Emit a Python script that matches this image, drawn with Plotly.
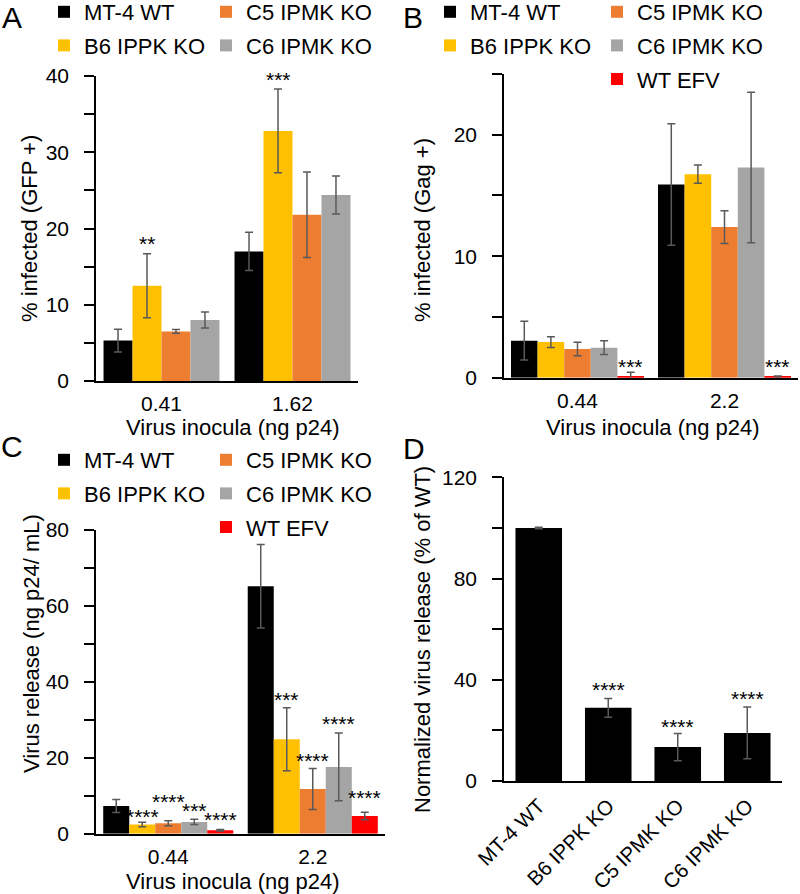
import plotly.graph_objects as go

FONT = "Liberation Sans, Arial, sans-serif"
W, H = 800, 894

# ---------------- data ----------------
series_names = ["MT-4 WT", "B6 IPPK KO", "C5 IPMK KO", "C6 IPMK KO", "WT EFV"]
series_colors = ["#000000", "#FFC000", "#ED7D31", "#A5A5A5", "#FF0000"]

# Panel A: % infected (GFP +)
a_categories = ["0.41", "1.62"]
a_mt4 = [5.3, 17.0]
a_mt4_err = [1.5, 2.5]
a_b6 = [12.5, 32.8]
a_b6_err = [4.2, 5.5]
a_c5 = [6.5, 21.8]
a_c5_err = [0.25, 5.6]
a_c6 = [8.0, 24.4]
a_c6_err = [1.05, 2.5]
a_ytick_vals = [0, 5, 10, 15, 20, 25, 30, 35, 40]
a_ytick_text = ["0", "", "10", "", "20", "", "30", "", "40"]
a_stars = [(0, 1, "**", 18.5), (1, 1, "***", 40.0)]

# Panel B: % infected (Gag +)
b_categories = ["0.44", "2.2"]
b_mt4 = [3.05, 15.9]
b_mt4_err = [1.6, 5.0]
b_b6 = [2.93, 16.75]
b_b6_err = [0.45, 0.75]
b_c5 = [2.36, 12.4]
b_c5_err = [0.55, 1.35]
b_c6 = [2.47, 17.3]
b_c6_err = [0.57, 6.2]
b_efv = [0.14, 0.06]
b_efv_err = [0.3, 0.08]
b_ytick_vals = [0, 5, 10, 15, 20, 25]
b_ytick_text = ["0", "", "10", "", "20", ""]
b_stars = [(0, 4, "***", 1.23), (1, 4, "***", 1.23)]

# Panel C: virus release (ng p24/ mL)
c_categories = ["0.44", "2.2"]
c_mt4 = [7.3, 65.2]
c_mt4_err = [1.7, 11.0]
c_b6 = [2.4, 24.9]
c_b6_err = [0.6, 8.3]
c_c5 = [2.75, 11.8]
c_c5_err = [0.65, 5.4]
c_c6 = [3.1, 17.6]
c_c6_err = [0.7, 8.9]
c_efv = [0.9, 4.65]
c_efv_err = [0.2, 1.0]
c_ytick_vals = [0, 10, 20, 30, 40, 50, 60, 70, 80]
c_ytick_text = ["0", "", "20", "", "40", "", "60", "", "80"]
c_stars = [(0, 1, "****", 5.5), (0, 2, "****", 9.6), (0, 3, "***", 7.1), (0, 4, "****", 4.7),
           (1, 1, "***", 36.5), (1, 2, "****", 20.3), (1, 3, "****", 30.0), (1, 4, "****", 10.6)]

# Panel D: normalized virus release (% of WT)
d_categories = ["MT-4 WT", "B6 IPPK KO", "C5 IPMK KO", "C6 IPMK KO"]
d_values = [100.0, 28.9, 13.4, 19.0]
d_err = [0.3, 3.7, 5.4, 10.2]
d_ytick_vals = [0, 20, 40, 60, 80, 100, 120]
d_ytick_text = ["0", "", "40", "", "80", "", "120"]
d_stars = [(1, "****", 37.7), (2, "****", 23.0), (3, "****", 34.3)]

# ---------------- layout helpers ----------------
def px_x(x):
    return x / W

def px_y(y):
    return 1 - y / H

fig = go.Figure()

ERR = dict(type="data", color="#595959", thickness=1.5, width=4)
STAR_FONT = dict(family=FONT, size=21, color="black")

def add_group_panel(xa, ya, cats, vals, errs, legends, group_frac):
    n = len(vals)
    w = group_frac / n
    for i, (v, e) in enumerate(zip(vals, errs)):
        col = 0 if i in (0, 1) else 1
        fig.add_trace(go.Bar(
            x=cats, y=v, name=series_names[i],
            marker=dict(color=series_colors[i], line=dict(width=0)),
            width=w, offset=-group_frac / 2 + i * w,
            error_y=dict(array=e, **ERR),
            xaxis=xa, yaxis=ya,
            legend=legends[col], legendgroup=f"{xa}{i}",
            showlegend=True,
        ))

def add_stars(xa, ya, stars, group_frac, n):
    w = group_frac / n
    for g, s, txt, yv in stars:
        fig.add_annotation(
            x=g - group_frac / 2 + (s + 0.5) * w, y=yv, text=txt,
            xref=xa, yref=ya, showarrow=False, yanchor="middle", yshift=-4,
            font=STAR_FONT,
        )

gA, gB, gC = 0.885, 0.905, 0.9
add_group_panel("x", "y", a_categories,
                [a_mt4, a_b6, a_c5, a_c6], [a_mt4_err, a_b6_err, a_c5_err, a_c6_err],
                ["legend", "legend2"], gA)
add_group_panel("x2", "y2", b_categories,
                [b_mt4, b_b6, b_c5, b_c6, b_efv], [b_mt4_err, b_b6_err, b_c5_err, b_c6_err, b_efv_err],
                ["legend3", "legend4"], gB)
add_group_panel("x3", "y3", c_categories,
                [c_mt4, c_b6, c_c5, c_c6, c_efv], [c_mt4_err, c_b6_err, c_c5_err, c_c6_err, c_efv_err],
                ["legend5", "legend6"], gC)
fig.add_trace(go.Bar(
    x=d_categories, y=d_values, width=0.67,
    marker=dict(color="#000000", line=dict(width=0)),
    error_y=dict(array=d_err, **ERR),
    xaxis="x4", yaxis="y4", showlegend=False,
))

add_stars("x", "y", a_stars, gA, 4)
add_stars("x2", "y2", b_stars, gB, 5)
add_stars("x3", "y3", c_stars, gC, 5)
for c, txt, yv in d_stars:
    fig.add_annotation(x=c, y=yv, text=txt, xref="x4", yref="y4", showarrow=False,
                       yanchor="middle", yshift=-4, font=STAR_FONT)

tickfont = dict(family=FONT, size=21, color="black")

def xaxis_cfg(x0, x1, anchor, angle=0, size=21):
    return dict(domain=[px_x(x0), px_x(x1)], anchor=anchor, type="category",
                showline=True, linecolor="black", linewidth=1.5, ticks="",
                showgrid=False, zeroline=False, tickfont=dict(tickfont, size=size),
                tickangle=angle, ticklabelstandoff=3, fixedrange=True, automargin=False)

def yaxis_cfg(y0px, ytop, anchor, rng, tv, tt, standoff=11):
    return dict(domain=[px_y(y0px), px_y(ytop)], anchor=anchor, range=rng,
                tickvals=tv, ticktext=tt, showline=True, linecolor="black", linewidth=1.5,
                ticks="outside", ticklen=10, tickwidth=1.5, tickcolor="black",
                showgrid=False, zeroline=False, tickfont=tickfont, ticklabelstandoff=standoff,
                fixedrange=True, automargin=False)

legend_base = dict(xanchor="left", yanchor="top", orientation="v", bgcolor="rgba(0,0,0,0)",
                   font=dict(family=FONT, size=22, color="black"), tracegroupgap=2,
                   itemwidth=30, traceorder="grouped")

def leg(xpx, ypx):
    d = dict(legend_base)
    d.update(x=px_x(xpx), y=px_y(ypx))
    return d

fig.update_layout(
    width=W, height=H, margin=dict(l=0, r=0, t=0, b=0, autoexpand=False),
    paper_bgcolor="white", plot_bgcolor="white", barmode="overlay",
    font=dict(family=FONT, size=21, color="black"),
    xaxis=xaxis_cfg(96, 358, "y"),
    yaxis=yaxis_cfg(381, 76, "x", [0, 40], a_ytick_vals, a_ytick_text),
    xaxis2=xaxis_cfg(504, 798, "y2"),
    yaxis2=yaxis_cfg(377.7, 74, "x2", [0, 25], b_ytick_vals, b_ytick_text),
    xaxis3=xaxis_cfg(96, 385, "y3"),
    yaxis3=yaxis_cfg(833.7, 530, "x3", [0, 80], c_ytick_vals, c_ytick_text),
    xaxis4=xaxis_cfg(504, 782, "y4", angle=-45, size=20.5),
    yaxis4=yaxis_cfg(781, 477.3, "x4", [0, 120], d_ytick_vals, d_ytick_text, standoff=11),
    legend=leg(44, -9),
    legend2=leg(206, -9),
    legend3=leg(430, -9),
    legend4=leg(597, -9),
    legend5=leg(44, 439),
    legend6=leg(206, 439),
)

def text_ann(x, y, txt, size=22, angle=0, yanchor="middle"):
    fig.add_annotation(x=px_x(x), y=px_y(y), xref="paper", yref="paper", text=txt,
                       showarrow=False, textangle=angle, xanchor="center", yanchor=yanchor,
                       borderpad=0, font=dict(family=FONT, size=size, color="black"))

# axis titles
text_ann(30, 229, "% infected (GFP +)", angle=-90)
text_ann(422, 230, "% infected (Gag +)", angle=-90)
text_ann(31, 644, "Virus release (ng p24/ mL)", angle=-90)
text_ann(422, 640, "Normalized virus release (% of WT)", angle=-90)
text_ann(233, 427, "Virus inocula (ng p24)")
text_ann(653, 427, "Virus inocula (ng p24)")
text_ann(233, 881, "Virus inocula (ng p24)")

# panel letters
text_ann(12, 0, "A", size=30, yanchor="top")
text_ann(413, 0, "B", size=30, yanchor="top")
text_ann(12, 446, "C", size=30)
text_ann(414, 448, "D", size=30)

fig.write_html("out.html", config={"displayModeBar": False},
               post_script="document.body.style.margin='0px';")
